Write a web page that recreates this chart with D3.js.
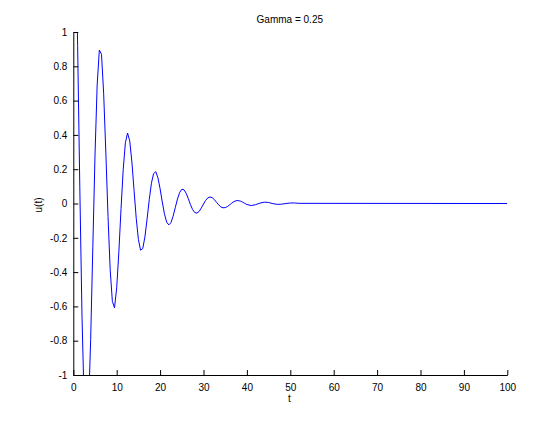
<!DOCTYPE html>
<html>
<head>
<meta charset="utf-8">
<script src="https://cdn.jsdelivr.net/npm/d3@7"></script>
<style>
  html, body { margin: 0; padding: 0; background: #fff; }
  svg { display: block; }
  text { font-family: "Liberation Sans", Arial, sans-serif; font-size: 10px; fill: #000; }
</style>
</head>
<body>
<svg id="chart" width="560" height="421"></svg>
<script>
// ---- data ----
const tValues = [
  0, 0.5, 1, 1.5, 2, 2.5, 3, 3.5, 4, 4.5, 5, 5.5, 6, 6.5, 7, 7.5, 8, 8.5, 9, 9.5,
  10, 10.5, 11, 11.5, 12, 12.5, 13, 13.5, 14, 14.5, 15, 15.5, 16, 16.5, 17, 17.5, 18, 18.5, 19, 19.5,
  20, 20.5, 21, 21.5, 22, 22.5, 23, 23.5, 24, 24.5, 25, 25.5, 26, 26.5, 27, 27.5, 28, 28.5, 29, 29.5,
  30, 30.5, 31, 31.5, 32, 32.5, 33, 33.5, 34, 34.5, 35, 35.5, 36, 36.5, 37, 37.5, 38, 38.5, 39, 39.5,
  40, 41, 42, 43, 44, 45, 46, 47, 48, 49, 50, 51, 52, 100
];
const uValues = [
  1.977, 1.613, 0.920, 0.097, -0.651, -1.162, -1.345, -1.198, -0.793, -0.252,
  0.282, 0.691, 0.895, 0.870, 0.639, 0.295, -0.076, -0.387, -0.571, -0.608,
  -0.492, -0.281, -0.030, 0.198, 0.354, 0.411, 0.365, 0.242, 0.077, -0.086,
  -0.210, -0.272, -0.263, -0.195, -0.090, 0.023, 0.118, 0.174, 0.186, 0.150,
  0.086, 0.009, -0.060, -0.108, -0.125, -0.112, -0.074, -0.024, 0.026, 0.064,
  0.083, 0.080, 0.060, 0.028, -0.007, -0.036, -0.053, -0.056, -0.046, -0.026,
  -0.003, 0.018, 0.033, 0.038, 0.034, 0.023, 0.007, -0.008, -0.020, -0.025,
  -0.024, -0.018, -0.008, 0.002, 0.011, 0.016, 0.017, 0.014, 0.008, 0.001,
  -0.006, -0.012, -0.007, 0.002, 0.008, 0.006, -0.001, -0.005, -0.004, 0.000,
  0.003, 0.003, 0.001, 0
];
const xTicks = [0, 10, 20, 30, 40, 50, 60, 70, 80, 90, 100];
const xTickLabels = ["0", "10", "20", "30", "40", "50", "60", "70", "80", "90", "100"];
const yTicks = [-1, -0.8, -0.6, -0.4, -0.2, 0, 0.2, 0.4, 0.6, 0.8, 1];
const yTickLabels = ["-1", "-0.8", "-0.6", "-0.4", "-0.2", "0", "0.2", "0.4", "0.6", "0.8", "1"];
const titleText = "Gamma = 0.25";
const xLabelText = "t";
const yLabelText = "u(t)";

// ---- layout ----
const plotLeft = 73.3, plotRight = 507.3, plotTop = 32, plotBottom = 375;
const svg = d3.select("#chart");

const x = d3.scaleLinear().domain([0, 100]).range([plotLeft, plotRight]);
const y = d3.scaleLinear().domain([-1, 1]).range([plotBottom, plotTop]);

svg.append("defs").append("clipPath").attr("id", "plotclip")
  .append("rect")
  .attr("x", plotLeft).attr("y", plotTop)
  .attr("width", plotRight - plotLeft).attr("height", plotBottom - plotTop);

const data = tValues.map((t, i) => ({ t, u: uValues[i] }));

svg.append("path")
  .datum(data)
  .attr("clip-path", "url(#plotclip)")
  .attr("fill", "none")
  .attr("stroke", "#0000ff")
  .attr("stroke-width", 1)
  .attr("d", d3.line().x(d => x(d.t)).y(d => y(d.u)));

// x axis (ticks pointing inward)
const xAxis = d3.axisBottom(x)
  .tickValues(xTicks)
  .tickFormat((d, i) => xTickLabels[i])
  .tickSizeInner(-5).tickSizeOuter(0).tickPadding(9);
const gx = svg.append("g").attr("transform", `translate(0,${plotBottom})`).call(xAxis);

// y axis (ticks pointing inward)
const yAxis = d3.axisLeft(y)
  .tickValues(yTicks)
  .tickFormat((d, i) => yTickLabels[i])
  .tickSizeInner(-5).tickSizeOuter(0).tickPadding(6);
const gy = svg.append("g").attr("transform", `translate(${plotLeft},0)`).call(yAxis);

[gx, gy].forEach(g => {
  g.select(".domain").attr("stroke", "#000").attr("stroke-width", 1);
  g.selectAll(".tick line").attr("stroke", "#000");
  g.selectAll(".tick text").attr("font-family", "Liberation Sans, Arial, sans-serif")
    .attr("font-size", 10).attr("fill", "#000");
});

svg.append("text")
  .attr("x", (plotLeft + plotRight) / 2 - 0.5).attr("y", 23)
  .attr("text-anchor", "middle")
  .text(titleText);

svg.append("text")
  .attr("x", (plotLeft + plotRight) / 2 - 1).attr("y", 402)
  .attr("text-anchor", "middle")
  .text(xLabelText);

svg.append("text")
  .attr("transform", `translate(42,205) rotate(-90)`)
  .attr("text-anchor", "middle")
  .text(yLabelText);
</script>
</body>
</html>
